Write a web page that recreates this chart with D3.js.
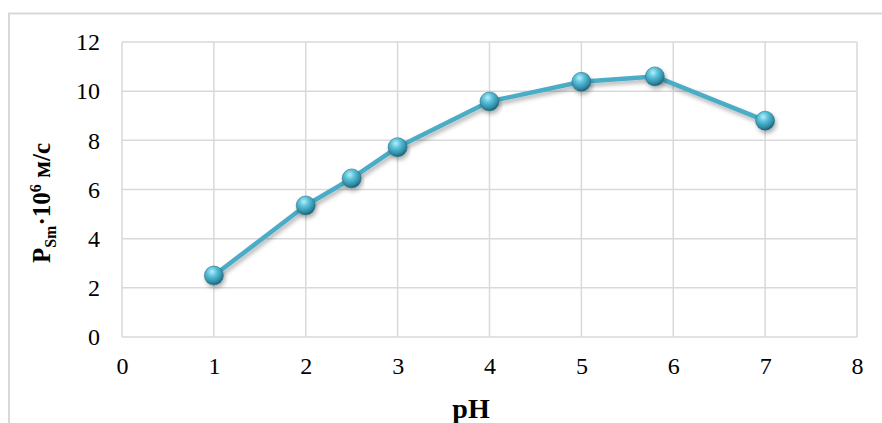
<!DOCTYPE html>
<html><head><meta charset="utf-8">
<script src="https://cdn.jsdelivr.net/npm/d3@7"></script>
<style>body{margin:0;background:#fff;} svg{display:block;}</style>
</head><body>
<svg id="c" width="882" height="423"></svg>
<script>
const phValues = [1, 2, 2.5, 3, 4, 5, 5.8, 7];
const pValues = [2.5, 5.35, 6.45, 7.72, 9.58, 10.38, 10.6, 8.8];
const xTicks = [0, 1, 2, 3, 4, 5, 6, 7, 8];
const yTicks = [0, 2, 4, 6, 8, 10, 12];

const svg = d3.select("#c");
const L = 122, R = 857, T = 42, B = 337;
const x = d3.scaleLinear().domain([0, 8]).range([L, R]);
const y = d3.scaleLinear().domain([0, 12]).range([B, T]);
const font = "'Liberation Serif','Times New Roman',serif";

// outer chart border
svg.append("rect").attr("x", 9).attr("y", 13.5).attr("width", 900).attr("height", 430)
  .attr("fill", "none").attr("stroke", "#d9d9d9").attr("stroke-width", 2);

const defs = svg.append("defs");
const rg = defs.append("radialGradient").attr("id", "ball").attr("cx", "40%").attr("cy", "30%").attr("r", "70%");
rg.append("stop").attr("offset", "0%").attr("stop-color", "#b8eef8");
rg.append("stop").attr("offset", "35%").attr("stop-color", "#5cc3dd");
rg.append("stop").attr("offset", "80%").attr("stop-color", "#2f8aa3");
rg.append("stop").attr("offset", "100%").attr("stop-color", "#1f5f72");
const f = defs.append("filter").attr("id", "sh").attr("x", "-20%").attr("y", "-20%").attr("width", "140%").attr("height", "160%");
f.append("feDropShadow").attr("dx", 1.5).attr("dy", 3).attr("stdDeviation", 2).attr("flood-color", "#000").attr("flood-opacity", 0.3);

// grid
const g = svg.append("g");
g.selectAll(".gy").data(yTicks).join("line")
  .attr("x1", L).attr("x2", R).attr("y1", d => y(d)).attr("y2", d => y(d))
  .attr("stroke", "#d9d9d9").attr("stroke-width", 1.5);
g.selectAll(".gx").data(xTicks).join("line")
  .attr("y1", T).attr("y2", B).attr("x1", d => x(d)).attr("x2", d => x(d))
  .attr("stroke", "#d9d9d9").attr("stroke-width", 1.5);

// axes via d3
const xa = svg.append("g").attr("transform", `translate(0,${B})`)
  .call(d3.axisBottom(x).tickValues(xTicks).tickSize(0).tickPadding(20).tickFormat(d3.format("d")));
const ya = svg.append("g").attr("transform", `translate(${L},0)`)
  .call(d3.axisLeft(y).tickValues(yTicks).tickSize(0).tickPadding(22).tickFormat(d3.format("d")));
[xa, ya].forEach(a => {
  a.select(".domain").remove();
  a.selectAll("text").attr("font-family", font).attr("font-size", 24).attr("fill", "#000");
});

// line
const line = d3.line().x((d, i) => x(phValues[i])).y(d => y(d));
svg.append("path").datum(pValues).attr("d", line)
  .attr("fill", "none").attr("stroke", "#4bacc6").attr("stroke-width", 4.5)
  .attr("stroke-linejoin", "round").attr("filter", "url(#sh)");

svg.selectAll(".pt").data(pValues).join("circle")
  .attr("cx", (d, i) => x(phValues[i])).attr("cy", d => y(d)).attr("r", 9.5)
  .attr("fill", "url(#ball)").attr("stroke", "#2a7488").attr("stroke-width", 0.6)
  .attr("filter", "url(#sh)");

// axis titles
svg.append("text").attr("x", 471).attr("y", 418).attr("text-anchor", "middle")
  .attr("font-family", font).attr("font-weight", "bold").attr("font-size", 28).text("pH");

const yt = svg.append("text").attr("transform", "translate(50,203) rotate(-90)")
  .attr("text-anchor", "middle").attr("font-family", font).attr("font-weight", "bold").attr("font-size", 25);
yt.append("tspan").text("P");
yt.append("tspan").attr("font-size", 16).attr("dy", 6).text("Sm");
yt.append("tspan").attr("dy", -6).text("·10");
yt.append("tspan").attr("font-size", 16).attr("dy", -9).text("6");
yt.append("tspan").attr("dy", 9).text(" м/с");
</script>
</body></html>
